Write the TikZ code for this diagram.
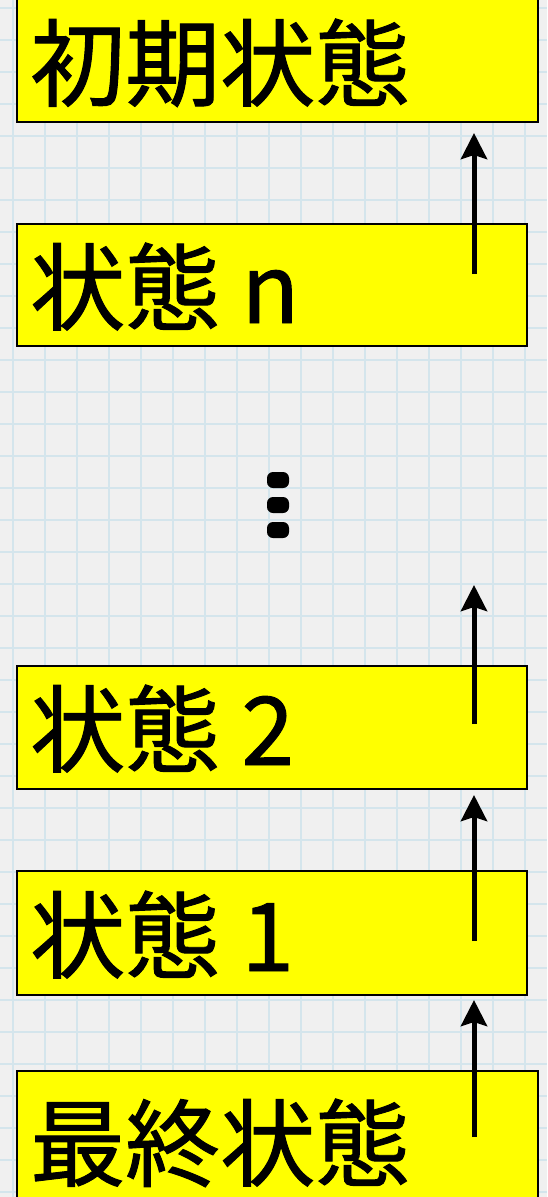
\documentclass[tikz,border=0pt]{standalone}
\usepackage{fontspec}
\newfontfamily\jp[FakeBold=1.0]{Noto Sans CJK JP}
\usetikzlibrary{arrows.meta}
\definecolor{paper}{RGB}{240,240,240}
\definecolor{gridblue}{RGB}{212,229,236}
\definecolor{boxyellow}{RGB}{255,255,0}
\tikzset{
  statebox/.style={draw=black,line width=2pt,fill=boxyellow},
  statetext/.style={anchor=base west,inner sep=0pt,font=\jp\fontsize{95}{95}\selectfont},
  uparrow/.style={line width=5pt,-{Stealth[width=26pt,length=26pt,inset=4pt]}},
  dotmark/.style={fill=black,rounded corners=6pt,minimum width=22pt,minimum height=16pt,inner sep=0pt}
}
\begin{document}
\begin{tikzpicture}[x=1pt,y=-1pt]
\useasboundingbox (0,0) rectangle (547,1197);
\fill[paper] (0,0) rectangle (547,1197);
\foreach \gx in {13,45,...,541} {\draw[gridblue,line width=2pt] (\gx,0) -- (\gx,1197);}
\foreach \gy in {8,40,...,1192} {\draw[gridblue,line width=2pt] (0,\gy) -- (547,\gy);}

% boxes
\draw[statebox] (17,-5) rectangle (538,122);
\node[statetext] (t1) at (30,99) {初期状態};
\draw[statebox] (17,224) rectangle (527,346);
\node[statetext] (t2) at (30,323) {状態 n};
\draw[statebox] (17,666) rectangle (527,789);
\node[statetext] (t3) at (30,765) {状態 2};
\draw[statebox] (17,871) rectangle (527,995);
\node[statetext] (t4) at (30,971) {状態 1};
\draw[statebox] (17,1071) rectangle (538,1205);
\node[statetext] (t5) at (30,1179) {最終状態};

% dots
\node[dotmark] (d1) at (278,480) {};
\node[dotmark] (d2) at (278,505) {};
\node[dotmark] (d3) at (278,530) {};

% arrows
\coordinate (a1s) at (474,274);
\coordinate (a1e) at (474,133);
\coordinate (a2s) at (474,724);
\coordinate (a2e) at (474,585);
\coordinate (a3s) at (474,941);
\coordinate (a3e) at (474,795);
\coordinate (a4s) at (474,1137);
\coordinate (a4e) at (474,1000);
\draw[uparrow] (a1s) -- (a1e);
\draw[uparrow] (a2s) -- (a2e);
\draw[uparrow] (a3s) -- (a3e);
\draw[uparrow] (a4s) -- (a4e);
\end{tikzpicture}
\end{document}
